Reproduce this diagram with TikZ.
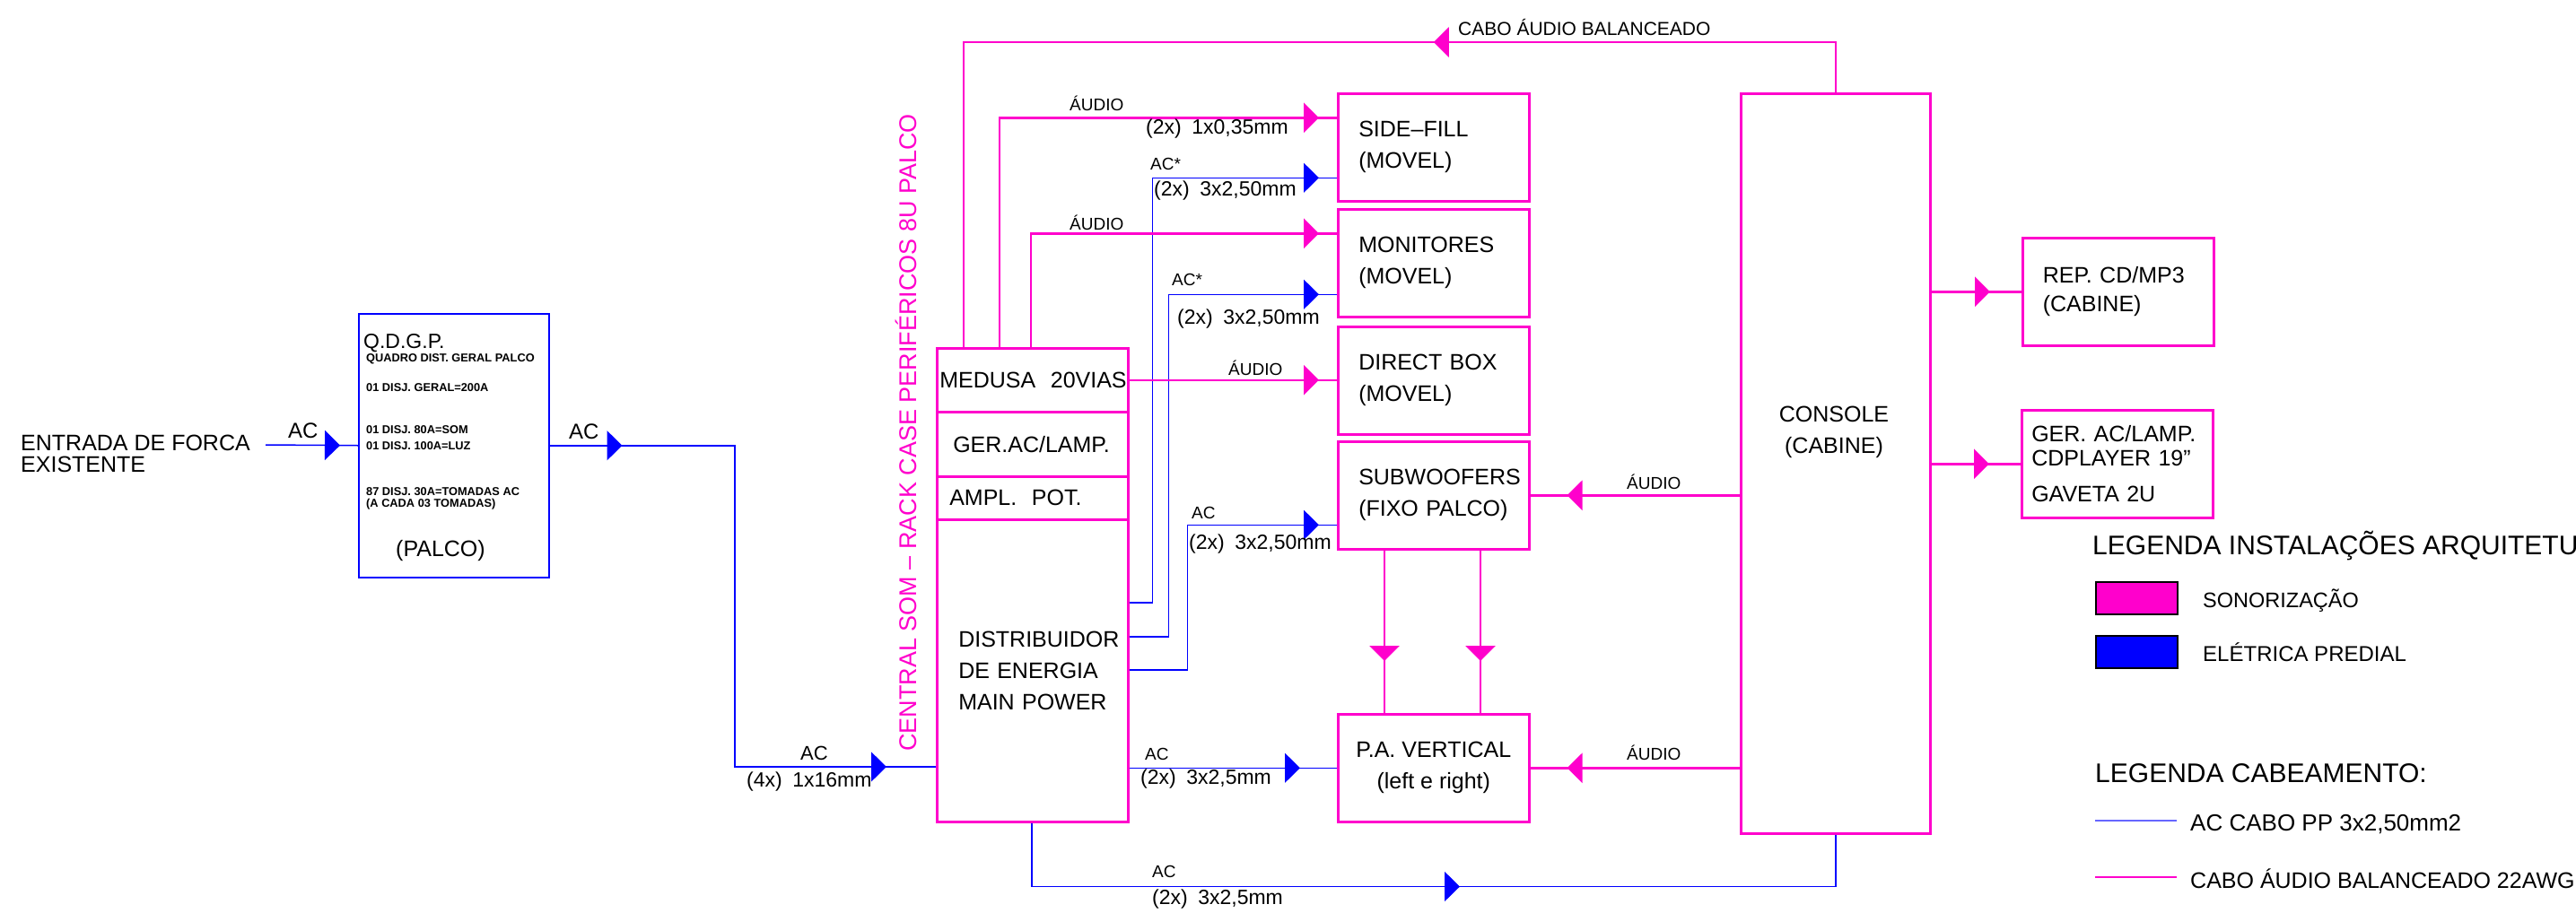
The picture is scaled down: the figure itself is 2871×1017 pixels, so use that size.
\documentclass[tikz,border=0pt]{standalone}
\usepackage{fontspec}
\setmainfont{Liberation Sans}
\usetikzlibrary{arrows.meta,positioning,calc,decorations.markings}
\definecolor{som}{HTML}{FF00CC}
\definecolor{predial}{HTML}{0000FF}
\newcommand\bxfont{\fontsize{25}{35}\selectfont}
\newcommand\smfont{\fontsize{19}{22}\selectfont}
\newcommand\dmfont{\fontsize{23}{26}\selectfont}
\newcommand\qdfont{\fontsize{12.8}{16}\selectfont\bfseries}
\tikzset{
  headat/.style={postaction={decorate,decoration={markings,
      mark=at position #1 with {\arrow{Triangle[length=17pt,width=33pt]}}}}},
  audio/.style={draw=som, line width=2.5pt},
  acline/.style={draw=predial, line width=1.5pt},
  sombox/.style={draw=som, line width=2.5pt, anchor=north west, inner ysep=0pt,
      minimum width=213pt, minimum height=120pt, font=\bxfont},
  leftbox/.style={sombox, align=left, inner xsep=23pt, text width=167pt},
  lbl/.style={anchor=base west, inner sep=0pt, font=\smfont},
  dimlbl/.style={lbl, font=\dmfont},
  qdlbl/.style={lbl, font=\qdfont},
}

\begin{document}
\begin{tikzpicture}[x=1pt, y=-1pt]
  \fill[white] (0,0) rectangle (2871,1017);
  \useasboundingbox (0,0) rectangle (2871,1017);

  % entrada e quadro geral
  \node[lbl, font=\bxfont] (entr1) at (23,502) {ENTRADA DE FORCA};
  \node[lbl, font=\bxfont] (entr2) at (23,526) {EXISTENTE};
  \node[draw=predial, line width=1.5pt, anchor=north west, minimum width=212pt, minimum height=294pt] (qdgp) at (399,349) {};
  \node[lbl, font=\fontsize{23}{26}\selectfont] (qdtit) at (405,388) {Q.D.G.P.};
  \node[qdlbl] (qdsub) at (408,403) {QUADRO DIST. GERAL PALCO};
  \node[qdlbl] (qd1) at (408,436) {01 DISJ. GERAL=200A};
  \node[qdlbl] (qd2) at (408,483) {01 DISJ. 80A=SOM};
  \node[qdlbl] (qd3) at (408,501) {01 DISJ. 100A=LUZ};
  \node[qdlbl] (qd4) at (408,552) {87 DISJ. 30A=TOMADAS AC};
  \node[qdlbl] (qd5) at (408,565) {(A CADA 03 TOMADAS)};
  \node[lbl, font=\bxfont] (qdpalco) at (441,620) {(PALCO)};

  % rack central
  \node[sombox, minimum height=71pt, align=left, inner xsep=3pt, text width=207pt] (medusa) at (1043,387) {MEDUSA~~20VIAS};
  \node[sombox, minimum height=72pt, align=left, inner xsep=18pt, text width=177pt] (gerlamp) at (1043,458) {GER.AC/LAMP.};
  \node[sombox, minimum height=48pt, align=left, inner xsep=14pt, text width=185pt] (ampl) at (1043,530) {AMPL.~~POT.};
  \node[sombox, minimum height=337pt, align=left, inner xsep=24pt, text width=165pt] (distrib) at (1043,578) {DISTRIBUIDOR\\DE~ENERGIA\\MAIN~POWER};
  \node[rotate=90, anchor=base west, inner sep=0pt, text=som, font=\fontsize{27}{30}\selectfont] (racktit) at (1021,838) {CENTRAL SOM – RACK CASE PERIFÉRICOS 8U PALCO};

  % caixas de palco
  \node[leftbox] (sidefill) at (1490,103) {SIDE–FILL\\(MOVEL)};
  \node[leftbox] (monitors) at (1490,232) {MONITORES\\(MOVEL)};
  \node[leftbox] (direct) at (1490,363) {DIRECT~BOX\\(MOVEL)};
  \node[leftbox] (subwoof) at (1490,491) {SUBWOOFERS\\(FIXO~PALCO)};
  \node[sombox, align=center] (pa) at (1490,795) {P.A.~VERTICAL\\(left e right)};

  % cabine
  \node[sombox, minimum width=211pt, minimum height=825pt] (console) at (1939,103) {};
  \node[font=\bxfont, align=center, inner sep=0pt] (consolelbl) at (2044,482) {CONSOLE\\(CABINE)};
  \node[leftbox, inner xsep=22pt, text width=168pt] (repcd) at (2253,264) {REP.~CD/MP3\\[-3pt](CABINE)};
  \node[leftbox, inner xsep=11pt, text width=191pt] (geracr) at (2252,456) {GER.~AC/LAMP.\\[-8pt]CDPLAYER~19''\\[5pt]GAVETA~2U};

  % cabos AC
  \coordinate (feed) at (296,496);
  \coordinate (drop) at (819,855);
  \draw[acline, headat=-20pt] (feed) -- (qdgp.west);
  \draw[acline, headat=81pt, headat=-55pt] (qdgp.east) -| (drop) -- (drop -| distrib.west);
  \draw[acline, headat=-20pt] ($(distrib.north east)+(0,94)$) -- ++(26,0) |- ($(sidefill.west)+(0,34)$);
  \draw[acline, headat=-20pt] ($(distrib.north east)+(0,132)$) -- ++(44,0) |- ($(monitors.west)+(0,35)$);
  \draw[acline, headat=-20pt] ($(distrib.north east)+(0,169)$) -- ++(65,0) |- ($(subwoof.west)+(0,33)$);
  \draw[acline, headat=-41pt] (distrib.east |- pa.west) -- (pa.west);
  \draw[acline, headat=548pt] ($(distrib.south west)+(107,0)$) -- ++(0,71) -| (console.south);

  % cabos de audio
  \coordinate (cabtop) at (1074,47);
  \draw[audio, headat=504pt] (console.north) |- (cabtop) -- (cabtop |- medusa.north);
  \draw[audio, headat=-20pt] ($(medusa.north west)+(71,0)$) |- ($(sidefill.west)+(0,-33)$);
  \draw[audio, headat=-20pt] ($(medusa.north west)+(106,0)$) |- ($(monitors.west)+(0,-33)$);
  \draw[audio, headat=-20pt] (medusa.east) -- (medusa.east -| direct.west);
  \draw[audio, headat=-41pt] (console.west |- subwoof.east) -- (subwoof.east);
  \draw[audio, headat=-41pt] (console.west |- pa.east) -- (pa.east);
  \draw[audio, headat=-35pt] (console.east |- repcd.west) -- (repcd.west);
  \draw[audio, headat=-35pt] (console.east |- geracr.west) -- (geracr.west);
  \foreach \dx in {53,160}
    \draw[audio, headat=-58pt] ($(subwoof.south west)+(\dx,0)$) -- ($(pa.north west)+(\dx,0)$);

  % rotulos dos cabos
  \node[lbl, font=\fontsize{24}{26}\selectfont] (acin) at (321,488) {AC};
  \node[lbl, font=\fontsize{24}{26}\selectfont] (acout) at (634,489) {AC};
  \node[lbl, font=\fontsize{22}{24}\selectfont] (acrack) at (892,847) {AC};
  \node[dimlbl] (dimrack) at (832,877) {(4x)\enspace 1x16mm};
  \node[lbl, font=\fontsize{21}{24}\selectfont] (cabolbl) at (1625,39) {CABO ÁUDIO BALANCEADO};
  \node[lbl] (au1) at (1192,123) {ÁUDIO};
  \node[dimlbl] (dim1) at (1277,149) {(2x)\enspace 1x0,35mm};
  \node[lbl] (ac1) at (1282,189) {AC*};
  \node[dimlbl] (dim2) at (1286,218) {(2x)\enspace 3x2,50mm};
  \node[lbl] (au2) at (1192,256) {ÁUDIO};
  \node[lbl] (ac2) at (1306,318) {AC*};
  \node[dimlbl] (dim3) at (1312,361) {(2x)\enspace 3x2,50mm};
  \node[lbl] (au3) at (1369,418) {ÁUDIO};
  \node[lbl] (ac3) at (1328,578) {AC};
  \node[dimlbl] (dim4) at (1325,612) {(2x)\enspace 3x2,50mm};
  \node[lbl] (ac4) at (1276,847) {AC};
  \node[dimlbl] (dim5) at (1271,874) {(2x)\enspace 3x2,5mm};
  \node[lbl] (ac5) at (1284,978) {AC};
  \node[dimlbl] (dim6) at (1284,1008) {(2x)\enspace 3x2,5mm};
  \node[lbl] (au4) at (1813,545) {ÁUDIO};
  \node[lbl] (au5) at (1813,847) {ÁUDIO};

  % legendas
  \node[lbl, font=\fontsize{30}{32}\selectfont] (legtit) at (2332,618) {LEGENDA INSTALAÇÕES ARQUITETU};
  \node[draw=black, line width=1.5pt, fill=som, anchor=north west, minimum width=91pt, minimum height=36pt, inner sep=0pt] (swsom) at (2335,648) {};
  \node[draw=black, line width=1.5pt, fill=predial, anchor=north west, minimum width=91pt, minimum height=36pt, inner sep=0pt] (swpre) at (2335,708) {};
  \node[lbl, font=\fontsize{23.5}{26}\selectfont] (legsom) at (2455,677) {SONORIZAÇÃO};
  \node[lbl, font=\fontsize{24}{26}\selectfont] (legpre) at (2455,737) {ELÉTRICA PREDIAL};
  \node[lbl, font=\fontsize{30}{32}\selectfont] (legcab) at (2335,872) {LEGENDA CABEAMENTO:};
  \node[lbl, font=\fontsize{26}{28}\selectfont] (legac) at (2441,926) {AC CABO PP 3x2,50mm2};
  \node[lbl, font=\fontsize{25}{28}\selectfont] (legaudio) at (2441,990) {CABO ÁUDIO BALANCEADO 22AWG};
  \draw[acline, draw=predial!60] ($(legac.base west)+(-15,-11)$) -- ++(-91,0);
  \draw[audio] ($(legaudio.base west)+(-15,-12)$) -- ++(-91,0);
\end{tikzpicture}
\end{document}
